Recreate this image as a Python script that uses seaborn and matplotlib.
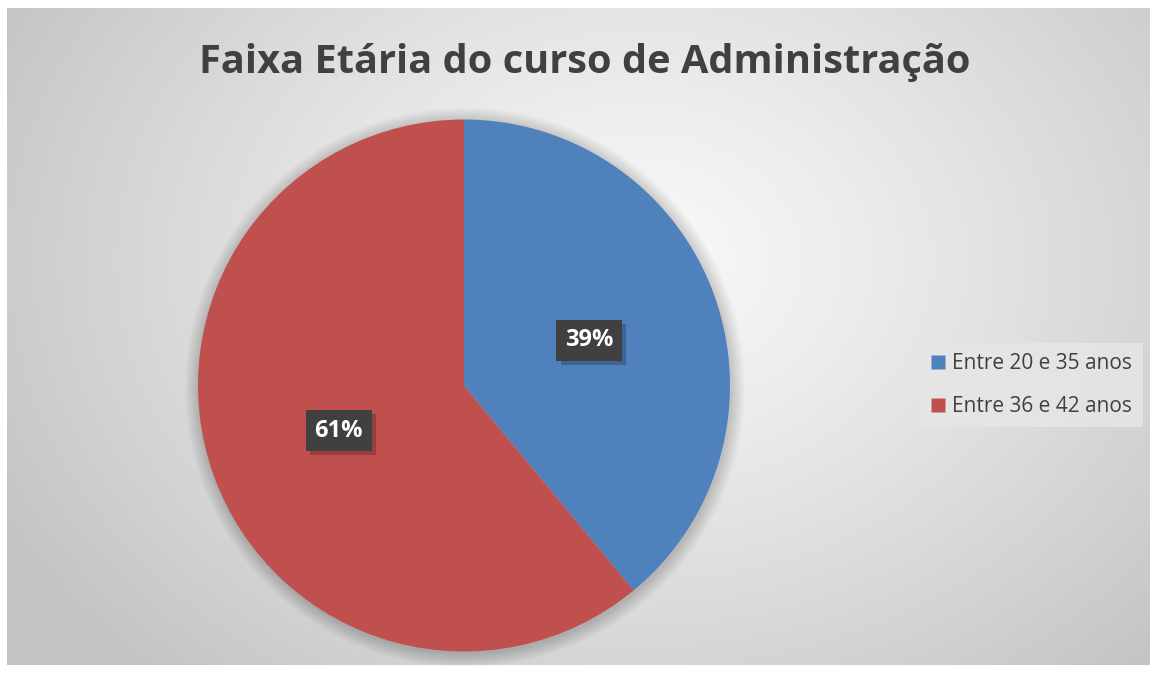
import numpy as np
import matplotlib
matplotlib.use("Agg")
import matplotlib.pyplot as plt
import matplotlib.patheffects as pe
from matplotlib.patches import Circle
from matplotlib.lines import Line2D
import seaborn as sns

# Data
categories = ["Entre 20 e 35 anos", "Entre 36 e 42 anos"]
values = [39, 61]
colors = ["#4F81BD", "#C0504D"]
title = "Faixa Etária do curso de Administração"

sns.set_theme(style="white")
plt.rcParams["font.family"] = ["Open Sans", "DejaVu Sans"]

W, H = 1156, 673
fig = plt.figure(figsize=(W / 100, H / 100), dpi=100)
fig.patch.set_facecolor("white")

# Background with radial gradient
bg = fig.add_axes([0, 0, 1, 1])
bg.set_xlim(0, W)
bg.set_ylim(H, 0)
bg.axis("off")
x0, x1, y0, y1 = 7, 1150, 8, 665
xx, yy = np.meshgrid(np.linspace(x0, x1, 400), np.linspace(y0, y1, 240))
cx, cy = 640, 260
d = np.sqrt(((xx - cx) / 720) ** 2 + ((yy - cy) / 560) ** 2)
d = np.clip(d, 0, 1)
light = np.array([0.975, 0.975, 0.975])
dark = np.array([0.77, 0.77, 0.77])
img = light[None, None, :] + (dark - light)[None, None, :] * (d[..., None] ** 1.2)
bg.imshow(img, extent=[x0, x1, y1, y0], aspect="auto", zorder=0)

cxp, cyp, r = 464, 385.5, 266
# soft glow/shadow around pie
for k in range(14, 0, -1):
    bg.add_patch(Circle((cxp + 1, cyp + 2), r + k, facecolor="black",
                        edgecolor="none", alpha=0.012, zorder=1))

# Pie axes
ax = fig.add_axes([(cxp - r) / W, (H - cyp - r) / H, 2 * r / W, 2 * r / H])
wedges, texts, autotexts = ax.pie(
    values, colors=colors, startangle=90, counterclock=False,
    autopct=lambda p: f"{p:.0f}%", pctdistance=0.5,
    wedgeprops=dict(linewidth=0),
)
ax.set_xlim(-1, 1)
ax.set_ylim(-1, 1)
ax.set_aspect("equal")
for t in autotexts:
    t.set_color("white")
    t.set_fontsize(17)
    t.set_fontweight("bold")
    t.set_bbox(dict(boxstyle="square,pad=0.36", facecolor="#404040", edgecolor="none"))
    t.get_bbox_patch().set_path_effects(
        [pe.SimplePatchShadow(offset=(3, -3), shadow_rgbFace="black", alpha=0.22), pe.Normal()]
    )

# Title
fig.text(585 / W, 1 - 73 / H, title, ha="center", va="baseline",
         fontsize=28.6, fontweight="bold", color="#404040")

# Legend
handles = [Line2D([0], [0], marker="s", linestyle="none", markersize=10.5,
                  markerfacecolor=c, markeredgecolor="none") for c in colors]
leg = fig.legend(handles, categories, loc="center left",
                 bbox_to_anchor=(920 / W, 1 - 385 / H), frameon=True,
                 fontsize=15, labelcolor="#404040", handletextpad=0.3,
                 labelspacing=1.05, borderpad=0.5, handlelength=0.75,
                 borderaxespad=0, fancybox=False)
leg.get_frame().set_facecolor("#e6e6e6")
leg.get_frame().set_edgecolor("none")
leg.get_frame().set_alpha(0.85)

fig.savefig("out.png", dpi=100)
